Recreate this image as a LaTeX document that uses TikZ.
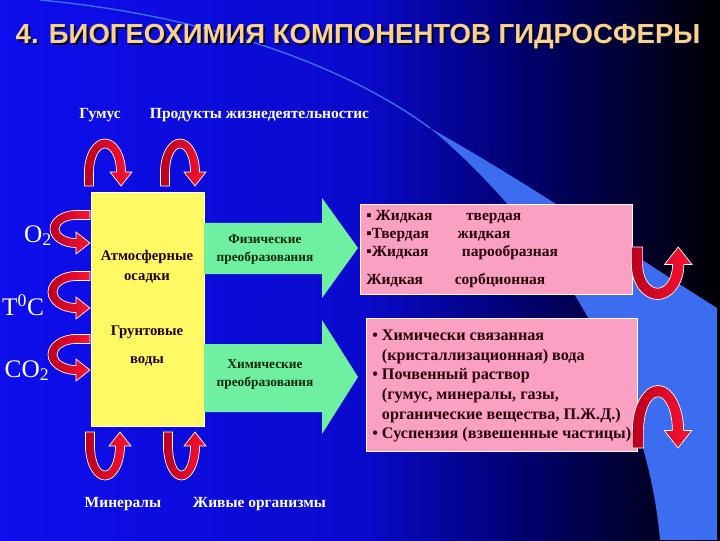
\documentclass[tikz,border=0pt]{standalone}
\usepackage{fontspec}
\setmainfont{Liberation Serif}
\newfontfamily\titlefont{Liberation Sans}
\usetikzlibrary{positioning}

\definecolor{bgLeft}{RGB}{14,14,238}
\definecolor{bgMid}{RGB}{10,10,205}
\definecolor{bgDark}{RGB}{0,0,105}
\definecolor{bgNight}{RGB}{0,0,40}
\definecolor{bandBlue}{RGB}{60,108,240}
\definecolor{titleGold}{RGB}{250,210,140}
\definecolor{boxYellow}{RGB}{255,250,100}
\definecolor{arrowGreen}{RGB}{110,240,160}
\definecolor{boxPink}{RGB}{250,160,195}
\definecolor{loopDark}{RGB}{185,0,30}
\definecolor{loopRed}{RGB}{250,20,50}
\definecolor{inkDark}{RGB}{40,0,10}
\definecolor{inkGreen}{RGB}{0,40,10}

\pgfdeclarehorizontalshading{slidebg}{100bp}{color(0bp)=(bgLeft); color(25bp)=(bgLeft); color(50bp)=(bgMid); color(62bp)=(bgDark); color(70bp)=(bgNight); color(75bp)=(black); color(100bp)=(black)}

\newlength\pxu
\setlength\pxu{0.025cm}

% red U-turn arrow: origin, transform, leg distance, height
\newcommand{\redloop}[4]{%
  \begin{scope}[shift={#1},#2]
    \path[loopfill] (-4.5,0) -- (-4.5,14)
      arc[start angle=180, end angle=0, x radius=#3/2+4.5, y radius=#4-14]
      -- ++(6.5,0) -- ++(-11,-14) -- ++(-11,14) -- ++(6.5,0)
      arc[start angle=0, end angle=180, x radius=#3/2-4.5, y radius=#4-23]
      -- (4.5,0) -- cycle;
  \end{scope}}

\begin{document}
\begin{tikzpicture}[x=0.025cm, y=0.025cm,
  whitelabel/.style={text=white, font=\bfseries\fontsize{11}{13}\selectfont},
  gas/.style={text=white, font=\fontsize{18}{20}\selectfont, anchor=base},
  loopfill/.style={draw=white, line width=0.5pt, left color=loopDark, right color=loopRed},
  yellowbox/.style={draw=white, fill=boxYellow, minimum width=113\pxu, minimum height=234\pxu, inner sep=0pt},
  pinkbox/.style={draw=white, fill=boxPink, inner sep=0pt},
  greenarrow/.style={fill=arrowGreen},
  yellowtext/.style={text=inkDark, font=\bfseries\fontsize{10.5}{14}\selectfont, align=center},
  greentext/.style={text=inkGreen, font=\bfseries\fontsize{9.5}{12.8}\selectfont, align=center},
  pinktext/.style={text=inkDark, font=\bfseries\fontsize{11}{13}\selectfont, align=left, inner sep=0pt, anchor=north west}]
	\useasboundingbox (0,0) rectangle (720,540);
	% background
	\shade[shading=slidebg] (0,0) rectangle (720,540);
	\draw[bandBlue, line width=1pt] (40,540) .. controls (200,525) and (340,478) .. (430,412);
	\fill[bandBlue] (430,412) .. controls (540,320) and (645,170) .. (660,0) -- (717,0) -- (717,232) .. controls (640,280) and (540,350) .. (430,412) -- cycle;
	
	% title
	\node[text=bgNight, font=\titlefont\bfseries\fontsize{19.6}{22}\selectfont] (titleshadow) at (360,501) {4. БИОГЕОХИМИЯ КОМПОНЕНТОВ ГИДРОСФЕРЫ};
	\node[text=titleGold, font=\titlefont\bfseries\fontsize{19.6}{22}\selectfont] (title) at (358,503) {4. БИОГЕОХИМИЯ КОМПОНЕНТОВ ГИДРОСФЕРЫ};
	
	\node[whitelabel] (humus) at (100,425) {Гумус};
	\node[whitelabel, anchor=west] (products) at (145,425) {Продукты жизнедеятельностис};
	\node[whitelabel] (minerals) at (123,36) {Минералы};
	\node[whitelabel, anchor=west] (organisms) at (188,36) {Живые организмы};
	
	\node[gas] (oxygen) at (38,298) {O\textsubscript{2}};
	\node[gas] (temp) at (23,225) {T\textsuperscript{0}C};
	\node[gas] (carbon) at (27,163) {CO\textsubscript{2}};
	
	% waters
	\node[yellowbox] (waters) at (147.5,231) {};
	\node[yellowtext] (precip) at (147,273) {Атмосферные\\осадки};
	\node[yellowtext] (ground) at (147,194) {Грунтовые\\[6pt]воды};
	
	% transformations
	\fill[greenarrow] (204,266) -- (322,266) -- (322,242) -- (358,292) -- (322,342) -- (322,317) -- (204,317) -- cycle;
	\node[greentext] (physical) at (265,290) {Физические\\преобразования};
	\fill[greenarrow] (204,128) -- (322,128) -- (322,106) -- (358,163) -- (322,220) -- (322,196) -- (204,196) -- cycle;
	\node[greentext] (chemical) at (265,165) {Химические\\преобразования};
	
	\node[pinkbox, minimum width=272\pxu, minimum height=90\pxu] (states) at (496,291) {};
	\node[pinktext] (statestext) at (366,330) {%
		\makebox[71pt][l]{▪ Жидкая}твердая\\
		\makebox[65pt][l]{▪Твердая}жидкая\\
		\makebox[68pt][l]{▪Жидкая}парообразная\\[6.5pt]
		\makebox[63pt][l]{Жидкая}сорбционная};
	\node[pinkbox, minimum width=271\pxu, minimum height=133\pxu] (forms) at (501.5,155.5) {};
	\node[pinktext, font=\bfseries\fontsize{11.5}{13.9}\selectfont] (formstext) at (372,210) {%
		• Химически связанная\\
		\phantom{•\ }(кристаллизационная) вода\\
		• Почвенный раствор\\
		\phantom{•\ }(гумус, минералы, газы,\\
		\phantom{•\ }органические вещества, П.Ж.Д.)\\
		• Суспензия (взвешенные частицы)};
	
	% exchange loops
	\redloop{(89,354)}{}{32}{47}
	\redloop{(165,354)}{}{30}{47}
	\redloop{(90,108)}{yscale=-1}{30}{48}
	\redloop{(168,108)}{yscale=-1}{27}{48}
	\redloop{(90,325)}{rotate=90,xscale=-1}{28}{40}
	\redloop{(90,264)}{rotate=90,xscale=-1}{32}{42}
	\redloop{(90,201)}{rotate=90,xscale=-1}{31}{42}
	\redloop{(637,293)}{yscale=-1,scale=1.25}{33}{42}
	\redloop{(638,92)}{scale=1.25}{32}{50}
\end{tikzpicture}
\end{document}
